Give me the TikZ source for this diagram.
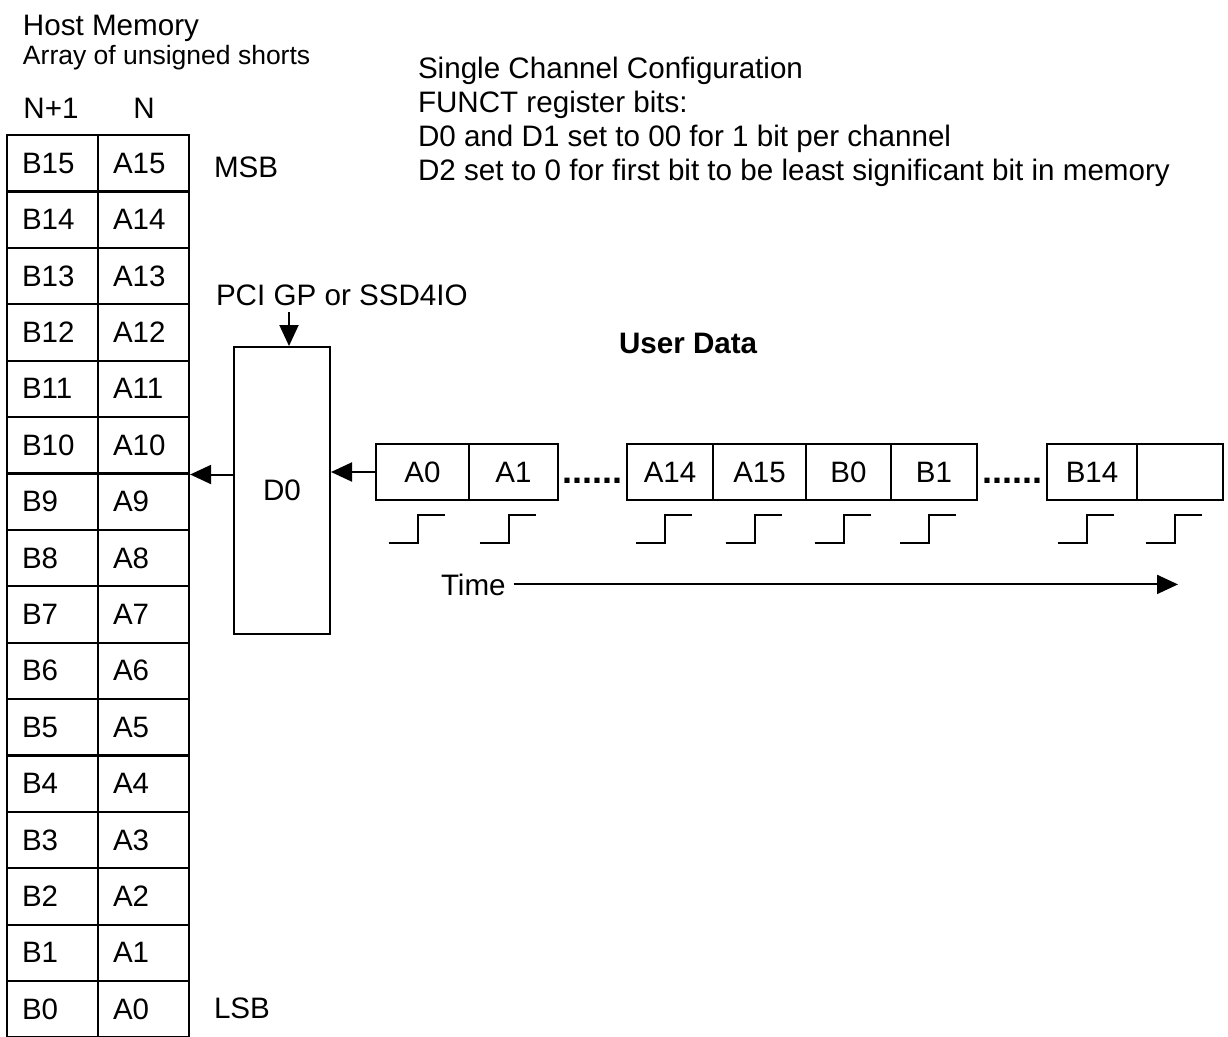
\documentclass[tikz,border=0pt]{standalone}
\usepackage{fontspec}
\setmainfont{Liberation Sans}
\usepackage{tikz}
\usetikzlibrary{arrows.meta,calc}

\begin{document}
\begin{tikzpicture}
[x=1pt,y=-1pt,line width=2pt,>={Triangle[length=21pt,width=19pt]},
txt/.style={inner sep=0pt,font=\fontsize{29.6}{34}\selectfont},
memcell/.style={draw,line width=2.2pt,minimum height=56.4pt,text width=61pt,
  inner xsep=15pt,inner ysep=0pt,align=left,font=\fontsize{29.5}{32}\selectfont},
datacell/.style={draw,minimum height=56pt,inner sep=0pt,font=\fontsize{29.5}{32}\selectfont},
dots/.style={inner sep=0pt,font=\bfseries\fontsize{36}{40}\selectfont},
pulse/.style={line width=2pt}]
\useasboundingbox (0,0) rectangle (1228,1036);

% host memory
\node[txt,anchor=base west] (host) at (22,35) {Host Memory};
\node[txt,anchor=base west,font=\fontsize{26.5}{30}\selectfont] (array) at (22,64) {Array of unsigned shorts};
\node[txt,anchor=base] (colb) at (51,118) {N+1};
\node[txt,anchor=base] (cola) at (144,118) {N};
\foreach \k in {0,...,15} {
  \node[memcell] (b\k) at (52.5,{135+(15-\k)*56.4+28.2}) {B\k};
  \node[memcell] (a\k) at (143.5,{135+(15-\k)*56.4+28.2}) {A\k};
}
\node[txt,anchor=base west] (msb) at (213,177) {MSB};
\node[txt,anchor=base west] (lsb) at (213,1018) {LSB};

% configuration
\foreach \ln [count=\i from 0] in {Single Channel Configuration,FUNCT register bits:,
  D0 and D1 set to 00 for 1 bit per channel,
  D2 set to 0 for first bit to be least significant bit in memory}
  \node[txt,anchor=base west] (cfg\i) at (417,{78+\i*34}) {\ln};

% input bit
\node[txt,draw,minimum width=96pt,minimum height=287pt] (d0) at (282,490.5) {D0};
\node[txt,anchor=base west] (pci) at (215,305) {PCI GP or SSD4IO};
\draw[->] ([xshift=7pt,yshift=-6pt]d0.north |- pci.south) -- ([xshift=7pt]d0.north);

% user data stream
\node[txt,anchor=base west,font=\bfseries\fontsize{29.6}{34}\selectfont] (userdata) at (618,353) {User Data};
\foreach \nm/\lbl/\xc/\w in {a0/A0/422.5/93,a1/A1/513.5/89,a14/A14/670/86,a15/A15/759.5/93,
  b0/B0/848.5/85,b1/B1/934/86,b14/B14/1092/90,last//1180/86}
  \node[datacell,minimum width=\w pt] (u\nm) at (\xc,472) {\lbl};
\node[dots] (gap1) at ($(ua1.east)!0.5!(ua14.west)+(0,9)$) {......};
\node[dots] (gap2) at ($(ub1.east)!0.5!(ub14.west)+(0,9)$) {......};

% clock edges
\foreach \nm in {a0,a1,a14,a15,b0,b1,b14,last}
  \draw[pulse] ([xshift=-34pt,yshift=-42pt]u\nm.south) -- ++(29,0) -- ++(0,-28) -- ++(27,0);

% time axis
\node[txt,anchor=base west] (time) at (440,595) {Time};
\coordinate (timeend) at (1178,585);
\draw[->] ([xshift=7pt]time.east) -- (time.east -| timeend);

\draw[->] (ua0.west) -- (ua0.west -| d0.east);
\draw[->] (d0.west |- a10.south east) -- (a10.south east);
\end{tikzpicture}
\end{document}
